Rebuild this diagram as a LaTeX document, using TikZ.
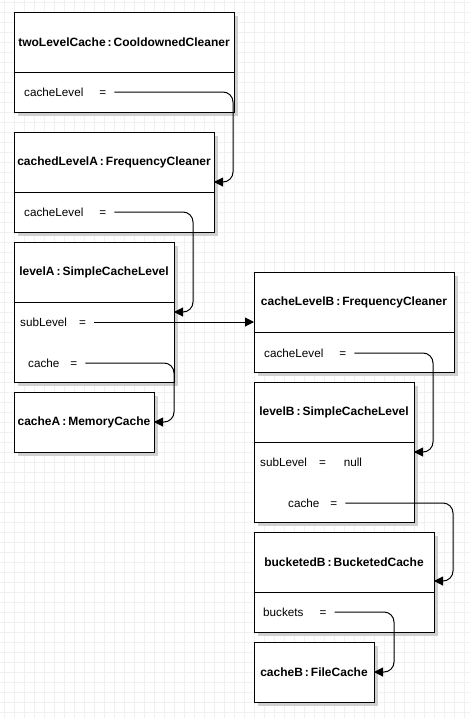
\documentclass[tikz,border=0pt]{standalone}
\usepackage{fontspec}
\setmainfont{Liberation Sans}
\usetikzlibrary{arrows.meta,positioning,shadows,calc}

\newcommand{\diafont}{\fontsize{11.7pt}{14pt}\selectfont}
\newcommand{\headfont}{\fontsize{12pt}{14pt}\selectfont\bfseries}
\definecolor{gridgray}{HTML}{F0F0F0}
\definecolor{shadowgray}{HTML}{D0D0D0}

\tikzset{
  objhead/.style={draw, fill=white, line width=1pt, outer sep=0pt, inner sep=0pt,
    anchor=north west, minimum height=60pt, font=\headfont,
    drop shadow={shadow xshift=4pt, shadow yshift=-4pt, fill=shadowgray, opacity=1}},
  objbody/.style={objhead, font=\diafont, minimum height=40pt},
  attr/.style={anchor=west, inner sep=0pt, font=\diafont},
  ref/.style={draw, line width=1pt, rounded corners=10pt, -{Triangle[length=9pt,width=9pt]}},
  gridline/.style={gridgray, line width=1pt}
}

\begin{document}
\begin{tikzpicture}[x=1pt, y=-1pt]
  \useasboundingbox (0,0) rectangle (470,718);
  % background grid
  \foreach \x in {4,14,...,464} \draw[gridline] (\x,0) -- (\x,718);
  \foreach \y in {2,12,...,712} \draw[gridline] (0,\y) -- (470,\y);

  % left column
  \node[objhead, minimum width=220pt] (twoLevelCache) at (14,12) {twoLevelCache\,:\,CooldownedCleaner};
  \node[objbody, minimum width=220pt, below=0pt of twoLevelCache] (twoLevelCacheBody) {};
  \node[attr] (twoLevelCacheLvl) at (24,92) {cacheLevel\hspace{16pt}=};

  \node[objhead, minimum width=200pt] (cachedLevelA) at (14,132) {cachedLevelA\,:\,FrequencyCleaner};
  \node[objbody, minimum width=200pt, below=0pt of cachedLevelA] (cachedLevelABody) {};
  \node[attr] (cachedLevelALvl) at (24,212) {cacheLevel\hspace{16pt}=};

  \node[objhead, minimum width=160pt] (levelA) at (14,242) {levelA\,:\,SimpleCacheLevel};
  \node[objbody, minimum width=160pt, minimum height=80pt, below=0pt of levelA] (levelABody) {};
  \node[attr] (levelASub) at (20,322) {subLevel\hspace{12pt}=};
  \node[attr] (levelACache) at (28,363) {cache\hspace{11pt}=};

  \node[objhead, minimum width=140pt] (cacheA) at (14,392) {cacheA\,:\,MemoryCache};

  % right column
  \node[objhead, minimum width=200pt] (cacheLevelB) at (254,272) {cacheLevelB\,:\,FrequencyCleaner};
  \node[objbody, minimum width=200pt, below=0pt of cacheLevelB] (cacheLevelBBody) {};
  \node[attr] (cacheLevelBLvl) at (264,353) {cacheLevel\hspace{16pt}=};

  \node[objhead, minimum width=160pt] (levelB) at (254,382) {levelB\,:\,SimpleCacheLevel};
  \node[objbody, minimum width=160pt, minimum height=80pt, below=0pt of levelB] (levelBBody) {};
  \node[attr] (levelBSub) at (260,462) {subLevel\hspace{12pt}=\hspace{18pt}null};
  \node[attr] (levelBCache) at (288,503) {cache\hspace{11pt}=};

  \node[objhead, minimum width=180pt] (bucketedB) at (254,532) {bucketedB\,:\,BucketedCache};
  \node[objbody, minimum width=180pt, below=0pt of bucketedB] (bucketedBBody) {};
  \node[attr] (bucketedBBuckets) at (263,612) {buckets\hspace{16pt}=};

  \node[objhead, minimum width=120pt] (cacheB) at (254,642) {cacheB\,:\,FileCache};

  % arrow ends
  \coordinate (inCachedLevelA) at ([yshift=10pt]cachedLevelA.south east);
  \coordinate (inLevelA) at ([yshift=-10pt]levelA.south east);
  \coordinate (inLevelB) at ([yshift=-10pt]levelB.south east);
  \coordinate (inBucketedB) at ([yshift=11pt]bucketedB.south east);

  % references
  \draw[ref] ([xshift=8pt]twoLevelCacheLvl.east) -| ([xshift=19pt]inCachedLevelA) -- (inCachedLevelA);
  \draw[ref] ([xshift=8pt]cachedLevelALvl.east) -| ([xshift=19pt]inLevelA) -- (inLevelA);
  \draw[ref] ([xshift=8pt]levelACache.east) -| ([xshift=20pt]cacheA.east) -- (cacheA.east);
  \draw[ref] ([xshift=8pt]levelASub.east) -- (levelASub.east -| cacheLevelB.west);
  \draw[ref] ([xshift=8pt]cacheLevelBLvl.east) -| ([xshift=19pt]inLevelB) -- (inLevelB);
  \draw[ref] ([xshift=8pt]levelBCache.east) -| ([xshift=19pt]inBucketedB) -- (inBucketedB);
  \draw[ref] ([xshift=8pt]bucketedBBuckets.east) -| ([xshift=20pt]cacheB.east) -- (cacheB.east);
\end{tikzpicture}
\end{document}
